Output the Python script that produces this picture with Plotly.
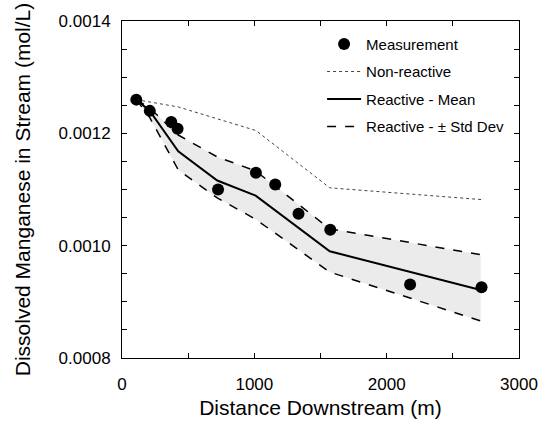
import plotly.graph_objects as go

# Measurements
meas_x = [108, 210, 372, 420, 726, 1012, 1158, 1334, 1574, 2177, 2717]
meas_y = [0.00126, 0.00124, 0.00122, 0.001208, 0.0011, 0.00113, 0.001109, 0.001057, 0.0010285, 0.000931, 0.000926]

# Non-reactive simulation
nonr_x = [108, 425, 1012, 1570, 2720]
nonr_y = [0.00126, 0.001247, 0.001205, 0.001103, 0.001082]

# Reactive simulation
model_x = [108, 210, 425, 720, 1010, 1570, 2710]
mean_y = [0.00126, 0.00124, 0.001168, 0.001116, 0.001089, 0.00099, 0.000921]
upper_y = [0.00126, 0.001245, 0.001197, 0.001158, 0.001133, 0.00103, 0.000984]
lower_y = [0.00126, 0.001228, 0.001135, 0.001085, 0.001047, 0.000953, 0.000866]

FONT = "Liberation Sans, Arial, Helvetica, sans-serif"

fig = go.Figure()

# shaded band
fig.add_trace(go.Scatter(x=model_x, y=upper_y, mode="lines", line=dict(width=0),
                         showlegend=False, hoverinfo="skip"))
fig.add_trace(go.Scatter(x=model_x, y=lower_y, mode="lines", line=dict(width=0),
                         fill="tonexty", fillcolor="#ebebeb", showlegend=False, hoverinfo="skip"))

fig.add_trace(go.Scatter(x=meas_x, y=meas_y, mode="markers", name="Measurement",
                         marker=dict(color="black", size=12), legendgroup="a", legendrank=1))
fig.add_trace(go.Scatter(x=nonr_x, y=nonr_y, mode="lines", name="Non-reactive",
                         line=dict(color="#444444", width=1, dash="dot"), legendgroup="b", legendrank=2))
fig.add_trace(go.Scatter(x=model_x, y=mean_y, mode="lines", name="Reactive - Mean",
                         line=dict(color="black", width=2), legendgroup="c", legendrank=3))
fig.add_trace(go.Scatter(x=model_x, y=upper_y, mode="lines", name="Reactive - \u00b1 Std Dev",
                         line=dict(color="black", width=1.5, dash="dash"), legendgroup="d", legendrank=4))
fig.add_trace(go.Scatter(x=model_x, y=lower_y, mode="lines", showlegend=False,
                         line=dict(color="black", width=1.5, dash="dash"), legendgroup="d"))

fig.update_layout(
    width=550, height=427,
    margin=dict(l=122, r=19, t=15, b=63),
    paper_bgcolor="white", plot_bgcolor="white",
    font=dict(family=FONT, color="black"),
    legend=dict(x=0.504, y=0.98, xanchor="left", yanchor="top",
                bgcolor="rgba(0,0,0,0)", font=dict(size=15), itemwidth=34,
                tracegroupgap=5, traceorder="grouped"),
    xaxis=dict(range=[0, 3000], dtick=1000, tick0=0, ticks="inside", ticklen=5,
               tickcolor="black", showline=True, linecolor="black", linewidth=1,
               mirror="ticks", showgrid=False, zeroline=False,
               tickfont=dict(size=17), ticklabelstandoff=11,
               minor=dict(dtick=500, ticks="inside", ticklen=5, tickcolor="black", showgrid=False),
               title=dict(text="Distance Downstream (m)", font=dict(size=21), standoff=6)),
    yaxis=dict(range=[0.0008, 0.0014], dtick=0.0002, tick0=0.0008, ticks="inside", ticklen=5,
               tickcolor="black", showline=True, linecolor="black", linewidth=1,
               mirror="ticks", showgrid=False, zeroline=False, tickformat=".4f",
               tickfont=dict(size=17), ticklabelstandoff=7,
               minor=dict(dtick=0.00005, ticks="inside", ticklen=5, tickcolor="black", showgrid=False),
               title=dict(text="Dissolved Manganese in Stream (mol/L)", font=dict(size=21), standoff=22)),
)

fig.write_html("out.html")
